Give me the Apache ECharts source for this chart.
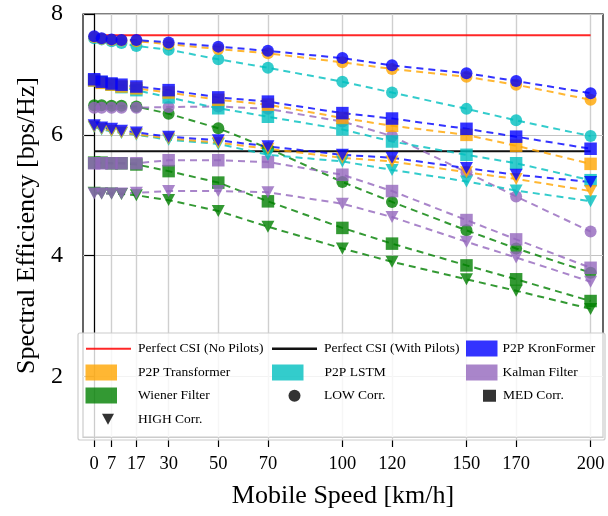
<!DOCTYPE html>
<html><head><meta charset="utf-8">
<script src="https://cdn.jsdelivr.net/npm/echarts@6/dist/echarts.min.js"></script>
<style>html,body{margin:0;padding:0;background:#fff}#c{width:608px;height:516px}</style>
</head><body><div id="c"></div><script>
// ---- data ----
const speeds = [0, 3, 7, 11, 17, 30, 50, 70, 100, 120, 150, 170, 200];
const speedTicks = [0, 7, 17, 30, 50, 70, 100, 120, 150, 170, 200];
const seTicks = [2, 4, 6, 8];
const perfectNoPilots = 7.65;
const perfectWithPilots = 5.73;

const kronLow  = [7.63, 7.60, 7.58, 7.57, 7.57, 7.53, 7.46, 7.39, 7.27, 7.15, 7.02, 6.89, 6.69];
const kronMed  = [6.92, 6.88, 6.85, 6.83, 6.80, 6.74, 6.62, 6.55, 6.36, 6.27, 6.10, 5.97, 5.77];
const kronHigh = [6.16, 6.12, 6.10, 6.07, 6.04, 5.97, 5.91, 5.81, 5.67, 5.62, 5.45, 5.34, 5.22];

const transLow  = [7.62, 7.59, 7.57, 7.56, 7.55, 7.50, 7.42, 7.35, 7.20, 7.09, 6.96, 6.83, 6.58];
const transMed  = [6.90, 6.86, 6.83, 6.80, 6.77, 6.70, 6.58, 6.50, 6.28, 6.15, 6.00, 5.82, 5.52];
const transHigh = [6.14, 6.10, 6.07, 6.04, 6.01, 5.94, 5.87, 5.77, 5.62, 5.56, 5.38, 5.27, 5.07];

const lstmLow  = [7.60, 7.58, 7.55, 7.52, 7.47, 7.41, 7.25, 7.11, 6.88, 6.70, 6.43, 6.24, 5.98];
const lstmMed  = [6.90, 6.87, 6.83, 6.79, 6.74, 6.62, 6.44, 6.30, 6.09, 5.89, 5.67, 5.53, 5.25];
const lstmHigh = [6.13, 6.09, 6.06, 6.03, 6.00, 5.92, 5.85, 5.67, 5.56, 5.42, 5.23, 5.08, 4.90];

const kalmanLow  = [6.45, 6.45, 6.45, 6.45, 6.45, 6.46, 6.47, 6.43, 6.22, 5.98, 5.38, 4.98, 4.40];
const kalmanMed  = [5.53, 5.53, 5.53, 5.53, 5.53, 5.58, 5.58, 5.55, 5.34, 5.07, 4.59, 4.27, 3.80];
const kalmanHigh = [5.03, 5.03, 5.03, 5.03, 5.04, 5.07, 5.07, 5.05, 4.86, 4.64, 4.23, 3.97, 3.57];

const wienerLow  = [6.49, 6.49, 6.48, 6.48, 6.47, 6.35, 6.11, 5.78, 5.22, 4.89, 4.42, 4.12, 3.72];
const wienerMed  = [5.54, 5.54, 5.53, 5.53, 5.51, 5.40, 5.21, 4.90, 4.46, 4.20, 3.84, 3.61, 3.25];
const wienerHigh = [5.04, 5.03, 5.03, 5.02, 5.00, 4.92, 4.74, 4.48, 4.12, 3.90, 3.61, 3.42, 3.12];

// ---- styling ----
const FONT = 'Liberation Serif';
const C = {
  blue: '#0000ff', orange: '#ffa500', cyan: '#00bfbf', purple: '#9467bd', green: '#008000'
};
const CL = {
  blue: 'rgba(0,0,255,0.8)', orange: 'rgba(255,165,0,0.8)', cyan: 'rgba(0,191,191,0.8)',
  purple: 'rgba(148,103,189,0.8)', green: 'rgba(0,128,0,0.8)', black: 'rgba(0,0,0,0.8)'
};
const TRI = 'path://M0,0L12,0L6,11Z';

function mk(name, vals, color, symbol, size, rotate) {
  return {
    type: 'line', name: name,
    data: speeds.map((s, i) => [s, vals[i]]),
    symbol: symbol, symbolSize: size, symbolRotate: rotate || 0,
    showSymbol: true, silent: true,
    lineStyle: { color: color, width: 2, type: [7, 5], opacity: 0.8 },
    itemStyle: { color: color, opacity: 0.8 },
    emphasis: { disabled: true }
  };
}
function dummy(name, color) {
  return { type: 'line', name: name, data: [], itemStyle: { color: color }, lineStyle: { color: color } };
}
function leg(name, left, rowC, w, h, icon, color, pad) {
  const th = 13.5;
  return {
    left: left, top: rowC - Math.max(h, th) / 2,
    itemWidth: w, itemHeight: h, padding: 0, itemGap: 0, selectedMode: false,
    data: [{ name: name, icon: icon, itemStyle: { color: color, borderWidth: 0 } }],
    textStyle: { fontFamily: FONT, fontSize: 13.5, color: '#000', padding: [0, 0, 0, pad] }
  };
}

const rows = [348.5, 372.5, 395.5, 419];
const series = [];
series.push({
  type: 'line', name: 'Perfect CSI (No Pilots)', silent: true, symbol: 'none',
  data: [[speeds[0], perfectNoPilots], [speeds[speeds.length - 1], perfectNoPilots]],
  lineStyle: { color: 'rgba(255,0,0,0.85)', width: 2 }, itemStyle: { color: 'rgba(255,0,0,0.85)' }
});
series.push({
  type: 'line', name: 'Perfect CSI (With Pilots)', silent: true, symbol: 'none',
  data: [[speeds[0], perfectWithPilots], [speeds[speeds.length - 1], perfectWithPilots]],
  lineStyle: { color: '#111', width: 2 }, itemStyle: { color: '#111' }
});
const methods = [
  ['Wiener', C.green, wienerLow, wienerMed, wienerHigh],
  ['Kalman', C.purple, kalmanLow, kalmanMed, kalmanHigh],
  ['LSTM', C.cyan, lstmLow, lstmMed, lstmHigh],
  ['Transformer', C.orange, transLow, transMed, transHigh],
  ['KronFormer', C.blue, kronLow, kronMed, kronHigh]
];
methods.forEach(m => {
  series.push(mk(m[0] + ' LOW', m[2], m[1], 'circle', 12));
  series.push(mk(m[0] + ' MED', m[3], m[1], 'rect', 12.5));
  series.push(mk(m[0] + ' HIGH', m[4], m[1], 'triangle', [13, 12], 180));
});
series.push(dummy('P2P KronFormer', CL.blue));
series.push(dummy('P2P Transformer', CL.orange));
series.push(dummy('P2P LSTM', CL.cyan));
series.push(dummy('Kalman Filter', CL.purple));
series.push(dummy('Wiener Filter', CL.green));
series.push(dummy('LOW Corr.', CL.black));
series.push(dummy('MED Corr.', CL.black));
series.push(dummy('HIGH Corr.', CL.black));

const legends = [
  leg('Perfect CSI (No Pilots)', 86, rows[0], 45, 2, 'rect', 'rgba(255,0,0,0.85)', 2),
  leg('P2P Transformer', 85.5, rows[1], 31.5, 16, 'rect', CL.orange, 16),
  leg('Wiener Filter', 85.5, rows[2], 31.5, 16, 'rect', CL.green, 16),
  leg('HIGH Corr.', 102, rows[3], 12, 11, TRI, CL.black, 19),
  leg('Perfect CSI (With Pilots)', 272, rows[0], 45, 2.5, 'rect', '#111', 2),
  leg('P2P LSTM', 272, rows[1], 31.5, 16, 'rect', CL.cyan, 16),
  leg('LOW Corr.', 288.5, rows[2], 12, 12, 'circle', CL.black, 18.5),
  leg('P2P KronFormer', 466, rows[0], 31.5, 16, 'rect', CL.blue, 0),
  leg('Kalman Filter', 466, rows[1], 31.5, 16, 'rect', CL.purple, 0),
  leg('MED Corr.', 483, rows[2], 13, 12, 'rect', CL.black, 2)
];

const chart = echarts.init(document.getElementById('c'), null, { renderer: 'canvas' });
chart.setOption({
  animation: false,
  backgroundColor: '#fff',
  grid: { left: 83, right: 5, top: 14, bottom: 79, show: true, borderColor: '#000', borderWidth: 1.2, backgroundColor: 'transparent' },
  xAxis: {
    type: 'value', min: -4.5, max: 205,
    name: 'Mobile Speed [km/h]', nameLocation: 'middle', nameGap: 46,
    nameTextStyle: { fontFamily: FONT, fontSize: 26, color: '#000' },
    axisLine: { show: true, lineStyle: { color: '#000', width: 1.2 } },
    axisTick: { show: true, inside: false, length: 10, customValues: speedTicks, lineStyle: { color: '#000', width: 1.2 } },
    axisLabel: { customValues: speedTicks, fontFamily: FONT, fontSize: 18.5, color: '#000', margin: 18 },
    splitLine: { show: true, lineStyle: { color: '#cfcfcf', width: 1.4 } }
  },
  yAxis: {
    type: 'value', min: 1, max: 8,
    name: 'Spectral Efficiency [bps/Hz]', nameLocation: 'middle', nameGap: 39,
    nameTextStyle: { fontFamily: FONT, fontSize: 26, color: '#000' },
    axisLine: { show: true, lineStyle: { color: '#000', width: 1.2 } },
    axisTick: { show: true, inside: false, length: 10, customValues: seTicks, lineStyle: { color: '#000', width: 1.2 } },
    axisLabel: { customValues: seTicks, fontFamily: FONT, fontSize: 24, color: '#000', margin: 20 },
    splitLine: { show: true, lineStyle: { color: '#c4c4c4', width: 1.2 } }
  },
  graphic: [{
    type: 'rect', z: 3, silent: true,
    shape: { x: 78, y: 333, width: 527, height: 107, r: 2 },
    style: { fill: 'rgba(255,255,255,0.8)', stroke: '#cccccc', lineWidth: 1.2 }
  }],
  legend: legends,
  series: series
});
</script></body></html>
